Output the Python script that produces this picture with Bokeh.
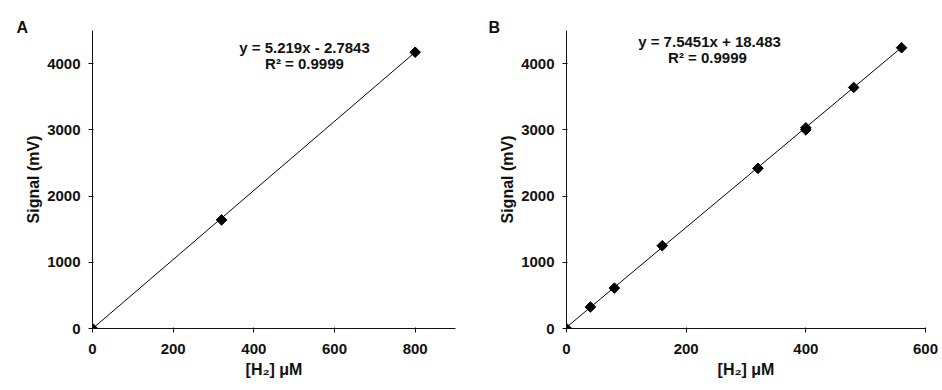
from bokeh.plotting import figure
from bokeh.layouts import row
from bokeh.models import Range1d, Label, FixedTicker, Title
from bokeh.embed import file_html
from bokeh.resources import INLINE

# ---- data ----
a_x = [0, 320, 800]
a_y = [0, 1640, 4172]
a_slope, a_intercept = 5.219, -2.7843
a_eq = "y = 5.219x - 2.7843"
a_r2 = "R² = 0.9999"

b_x = [0, 40, 80, 160, 320, 400, 400, 480, 560]
b_y = [0, 325, 610, 1250, 2418, 3000, 3030, 3640, 4240]
b_slope, b_intercept = 7.5451, 18.483
b_eq = "y = 7.5451x + 18.483"
b_r2 = "R² = 0.9999"

a_xticks = [0, 200, 400, 600, 800]
b_xticks = [0, 200, 400, 600]
yticks = [0, 1000, 2000, 3000, 4000]

FONT = "Liberation Sans"
H = 390


def make_panel(xs, ys, slope, intercept, xmax, xticks, eq, r2, letter,
               width, bl, br, bt, bb, eqpos, r2pos, letter_offset):
    p = figure(width=width, height=H, output_backend="svg", toolbar_location=None,
               x_range=Range1d(0, xmax), y_range=Range1d(0, 4500),
               min_border_left=bl, min_border_right=br, min_border_top=bt,
               min_border_bottom=bb)
    p.outline_line_color = None
    p.xgrid.visible = False
    p.ygrid.visible = False
    p.background_fill_color = "white"
    p.border_fill_color = "white"

    p.title = Title(text=letter, align="left", offset=letter_offset, standoff=-11,
                    text_font=FONT, text_font_style="bold", text_font_size="16px",
                    text_color="#111111")

    # trend line from fitted equation
    x0, x1 = 0, max(xs)
    p.line([x0, x1], [slope * x0 + intercept, slope * x1 + intercept],
           line_color="black", line_width=1)
    p.scatter(xs, ys, marker="square", size=7.5, angle=0.785398,
              fill_color="black", line_color="black")

    for ax in (p.xaxis[0], p.yaxis[0]):
        ax.axis_line_color = "#111111"
        ax.major_tick_line_color = "#111111"
        ax.major_tick_out = 4
        ax.major_tick_in = 1
        ax.minor_tick_line_color = None
        ax.major_label_text_font = FONT
        ax.major_label_text_font_style = "bold"
        ax.major_label_text_font_size = "15px"
        ax.major_label_text_color = "#111111"
        ax.axis_label_text_font = FONT
        ax.axis_label_text_font_style = "bold"
        ax.axis_label_text_font_size = "16px"
        ax.axis_label_text_color = "#111111"
    p.xaxis.ticker = FixedTicker(ticks=xticks)
    p.yaxis.ticker = FixedTicker(ticks=yticks)
    p.xaxis.axis_label = "[H₂] μM"
    p.yaxis.axis_label = "Signal (mV)"
    p.xaxis.major_label_standoff = 11
    p.xaxis.axis_label_standoff = 4
    p.yaxis.major_label_standoff = 8
    p.yaxis.axis_label_standoff = 2

    for txt, (lx, ly) in ((eq, eqpos), (r2, r2pos)):
        p.add_layout(Label(x=lx, y=ly, x_units="screen", y_units="screen",
                           text=txt, text_align="center", text_baseline="middle",
                           text_font=FONT, text_font_style="bold",
                           text_font_size="15px", text_color="#111111"))
    return p


pa = make_panel(a_x, a_y, a_slope, a_intercept, 900, a_xticks, a_eq, a_r2, "A",
                470, 92, 15, 30, H - 30 - 298, (212, 281), (212, 265), -76)
pb = make_panel(b_x, b_y, b_slope, b_intercept, 600, b_xticks, b_eq, b_r2, "B",
                472, 96, 17, 29, H - 29 - 304, (143, 287), (141, 271), -78)

layout = row(pa, pb, spacing=0)
open("out.html", "w").write(file_html(layout, INLINE))
